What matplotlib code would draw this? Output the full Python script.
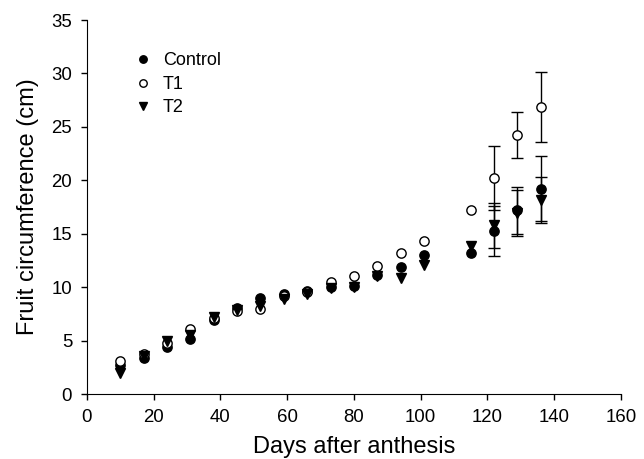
import numpy as np
import matplotlib
matplotlib.use("Agg")
import matplotlib.pyplot as plt

plt.rcParams['font.family'] = ['Liberation Sans', 'DejaVu Sans']

# days after anthesis
days = [10, 17, 24, 31, 38, 45, 52, 59, 66, 73, 80, 87, 94, 101, 115, 122, 129, 136]

# fruit circumference (cm)
control = [2.7, 3.4, 4.4, 5.15, 6.9, 8.05, 9.0, 9.35, 9.6, 10.0, 10.1, 11.1, 11.9, 13.0, 13.15, 15.25, 17.2, 19.2]
t1 = [3.1, 3.7, 4.8, 6.1, 7.1, 7.8, 8.0, 9.2, 9.5, 10.45, 11.0, 12.0, 13.15, 14.3, 17.2, 20.2, 24.2, 26.85]
t2 = [1.95, 3.6, 5.0, 5.5, 7.2, 7.9, 8.2, 8.85, 9.4, 9.9, 10.0, 11.0, 10.9, 12.05, 13.85, 15.8, 16.9, 18.15]

# standard errors (only the last three dates show bars)
control_err = [0] * 15 + [2.35, 2.2, 3.05]
t1_err = [0] * 15 + [3.0, 2.15, 3.25]
t2_err = [0] * 15 + [2.1, 2.15, 2.13]

fig = plt.figure(figsize=(6.44, 4.59), dpi=100)
ax = fig.add_axes([0.135, 0.1416, 0.829, 0.8148])

def draw(y, err, marker, face, label):
    d = np.array(days)
    y = np.array(y)
    e = np.array(err)
    m = e > 0
    ax.errorbar(d[m], y[m], yerr=e[m], fmt='none', ecolor='black',
                elinewidth=1.0, capsize=4.5, capthick=1.0, zorder=2)
    ax.plot(d, y, linestyle='none', marker=marker, markersize=6.7,
            markerfacecolor=face, markeredgecolor='black', markeredgewidth=1.0,
            label=label, zorder=3)

draw(control, control_err, 'o', 'black', 'Control')
draw(t1, t1_err, 'o', 'white', 'T1')
draw(t2, t2_err, 'v', 'black', 'T2')

ax.set_xlim(0, 160)
ax.set_ylim(0, 35)
ax.set_xticks(range(0, 161, 20))
ax.set_yticks(range(0, 36, 5))
ax.spines['top'].set_visible(False)
ax.spines['right'].set_visible(False)
ax.tick_params(direction='out', length=4.2, width=1, labelsize=13.4, pad=6.5)
ax.set_xlabel('Days after anthesis', fontsize=17, labelpad=7.5)
ax.set_ylabel('Fruit circumference (cm)', fontsize=17, labelpad=9)

leg = ax.legend(loc='upper left', bbox_to_anchor=(0.058, 0.957), frameon=False,
                fontsize=13, markerscale=0.8, handlelength=1.0,
                handletextpad=0.6, labelspacing=0.36)

fig.savefig('out.png', dpi=100)
